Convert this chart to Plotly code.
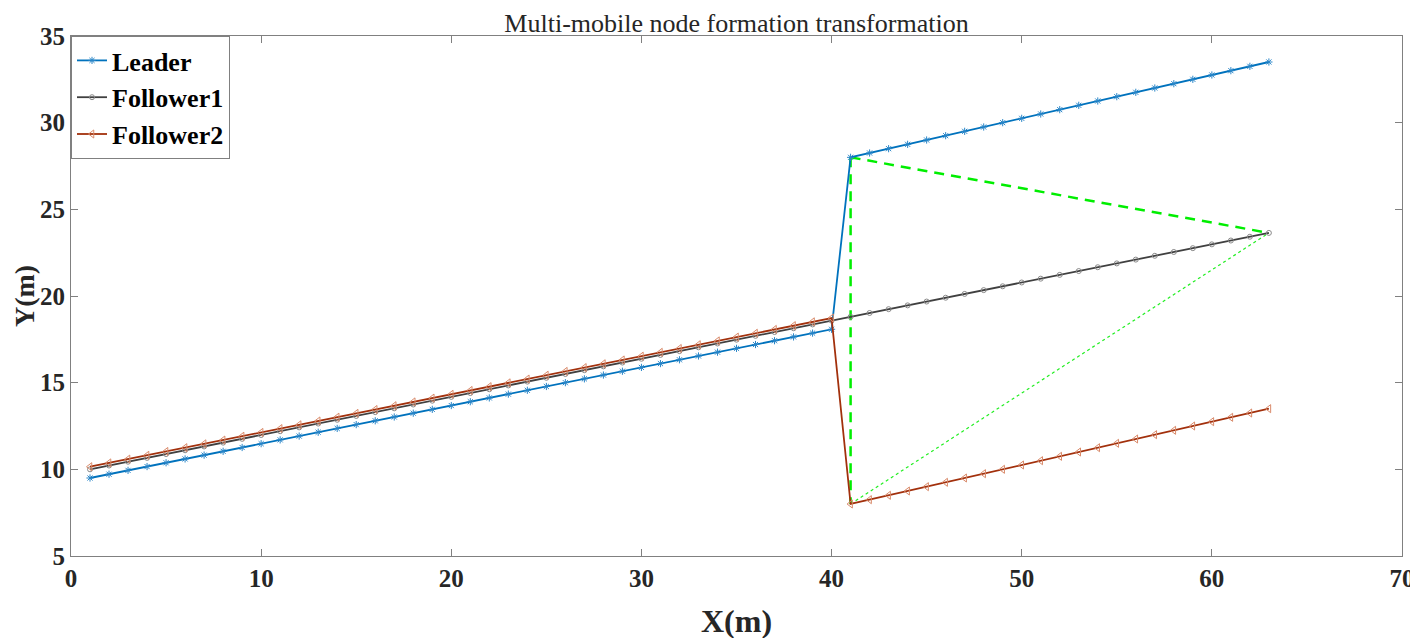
import plotly.graph_objects as go

# trajectory samples (x in metres)
x_before = list(range(1, 41))
x_after = list(range(41, 64))

leader_before = [9.50, 9.72, 9.94, 10.16, 10.38, 10.60, 10.82, 11.04, 11.26, 11.48,
                 11.70, 11.92, 12.14, 12.36, 12.58, 12.80, 13.02, 13.24, 13.46, 13.68,
                 13.90, 14.12, 14.34, 14.56, 14.78, 15.00, 15.22, 15.44, 15.66, 15.88,
                 16.10, 16.32, 16.54, 16.76, 16.98, 17.20, 17.42, 17.64, 17.86, 18.08]
leader_after = [28.00, 28.25, 28.50, 28.75, 29.00, 29.25, 29.50, 29.75, 30.00, 30.25,
                30.50, 30.75, 31.00, 31.25, 31.50, 31.75, 32.00, 32.25, 32.50, 32.75,
                33.00, 33.25, 33.50]

follower1_before = [10.00, 10.22, 10.44, 10.66, 10.88, 11.10, 11.32, 11.54, 11.76, 11.98,
                    12.20, 12.42, 12.64, 12.86, 13.08, 13.30, 13.52, 13.74, 13.96, 14.18,
                    14.40, 14.62, 14.84, 15.06, 15.28, 15.50, 15.72, 15.94, 16.16, 16.38,
                    16.60, 16.82, 17.04, 17.26, 17.48, 17.70, 17.92, 18.14, 18.36, 18.58]
follower1_after = [18.80, 19.02, 19.24, 19.46, 19.68, 19.90, 20.12, 20.34, 20.56, 20.78,
                   21.00, 21.22, 21.44, 21.66, 21.88, 22.10, 22.32, 22.54, 22.76, 22.98,
                   23.20, 23.42, 23.64]

follower2_before = [10.15, 10.37, 10.59, 10.81, 11.03, 11.25, 11.47, 11.69, 11.91, 12.13,
                    12.35, 12.57, 12.79, 13.01, 13.23, 13.45, 13.67, 13.89, 14.11, 14.33,
                    14.55, 14.77, 14.99, 15.21, 15.43, 15.65, 15.87, 16.09, 16.31, 16.53,
                    16.75, 16.97, 17.19, 17.41, 17.63, 17.85, 18.07, 18.29, 18.51, 18.73]
follower2_after = [8.00, 8.25, 8.50, 8.75, 9.00, 9.25, 9.50, 9.75, 10.00, 10.25,
                   10.50, 10.75, 11.00, 11.25, 11.50, 11.75, 12.00, 12.25, 12.50, 12.75,
                   13.00, 13.25, 13.50]

# formation triangle edges (green)
edge_dashed_x = [41, 41, None, 41, 63]
edge_dashed_y = [28.00, 8.00, None, 28.00, 23.64]
edge_dotted_x = [41, 63]
edge_dotted_y = [8.00, 23.64]

FONT = "Liberation Serif"
xs = x_before + x_after

fig = go.Figure()
fig.add_trace(go.Scatter(
    x=edge_dashed_x, y=edge_dashed_y, mode='lines', showlegend=False,
    line=dict(color='#00ee00', width=2.5, dash='10px,7px'), hoverinfo='skip'))
fig.add_trace(go.Scatter(
    x=edge_dotted_x, y=edge_dotted_y, mode='lines', showlegend=False,
    line=dict(color='#22ee22', width=1.2, dash='3px,3px'), hoverinfo='skip'))

fig.add_trace(go.Scatter(
    x=xs, y=leader_before + leader_after, mode='lines+markers', name='Leader',
    line=dict(color='#0072BD', width=1.8),
    marker=dict(symbol='asterisk-open', size=6, color='#2a86c8', line=dict(width=1, color='#2a86c8'))))
fig.add_trace(go.Scatter(
    x=xs, y=follower1_before + follower1_after, mode='lines+markers', name='Follower1',
    line=dict(color='#404040', width=1.8),
    marker=dict(symbol='circle-open', size=5, color='#8a8a8a', line=dict(width=1, color='#8a8a8a'))))
fig.add_trace(go.Scatter(
    x=xs, y=follower2_before + follower2_after, mode='lines+markers', name='Follower2',
    line=dict(color='#A2300C', width=1.8),
    marker=dict(symbol='triangle-left-open', size=7, color='#d98a6a', line=dict(width=1, color='#d98a6a'))))

axis_common = dict(
    showgrid=False, zeroline=False, showline=True, mirror='ticks',
    linecolor='#808080', linewidth=1, ticks='inside', ticklen=7,
    tickcolor='#808080', tickfont=dict(family=FONT, size=25, color='#262626', weight='bold'),
)

fig.update_layout(
    width=1418, height=638,
    paper_bgcolor='white', plot_bgcolor='white',
    margin=dict(l=63, r=24, t=28, b=90),
    title=dict(text='Multi-mobile node formation transformation',
               font=dict(family=FONT, size=26, color='#262626'),
               xref='paper', x=0.5, xanchor='center', y=0.9765, yanchor='middle'),
    xaxis=dict(range=[0, 70], tickvals=[0, 10, 20, 30, 40, 50, 60, 70], **axis_common),
    yaxis=dict(range=[5, 35], tickvals=[5, 10, 15, 20, 25, 30, 35], **axis_common),
    legend=dict(x=0, y=1, xanchor='left', yanchor='top',
                bgcolor='white', bordercolor='#808080', borderwidth=1,
                font=dict(family=FONT, size=26, color='black', weight='bold'),
                itemwidth=30, tracegroupgap=0),
    showlegend=True,
    annotations=[
        dict(text='X(m)', xref='paper', yref='paper', x=0.5, y=0, xanchor='center',
             yanchor='middle', yshift=-65, showarrow=False,
             font=dict(family=FONT, size=32, color='#262626', weight='bold')),
        dict(text='Y(m)', xref='paper', yref='paper', x=0, y=0.5, xanchor='center',
             yanchor='middle', xshift=-47, textangle=-90, showarrow=False,
             font=dict(family=FONT, size=28, color='#262626', weight='bold')),
    ],
)

fig.write_html("out.html")
